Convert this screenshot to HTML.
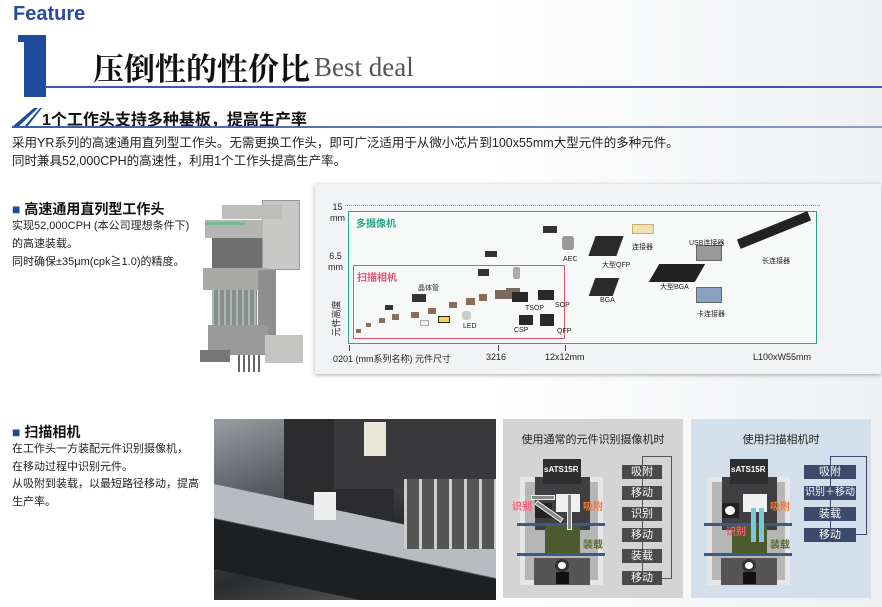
<!DOCTYPE html>
<html style="overflow:hidden;height:607px"><head><meta charset="utf-8"><style>
*{margin:0;padding:0;box-sizing:border-box}
body{width:882px;height:607px;overflow:hidden;position:relative;background:linear-gradient(90deg,#fff 0%,#fff 55%,#eef0f2 100%);font-family:"Liberation Sans","Noto Sans CJK SC",sans-serif;color:#222}
.a{position:absolute;white-space:nowrap}
.s{font-family:"Liberation Serif","Noto Serif CJK SC",serif}
.r{position:absolute}
.fb{position:absolute;color:#fff;font-size:11px;text-align:center;line-height:14px;height:14px;white-space:nowrap}
.lb{position:absolute;font-size:7px;color:#222;white-space:nowrap}
</style></head><body>
<!-- header -->
<div class="a" style="left:13px;top:3px;font-size:20px;font-weight:bold;color:#2a4aa0">Feature</div>
<div class="r" style="left:24px;top:35px;width:22px;height:62px;background:#1f4b9e"></div>
<div class="r" style="left:18px;top:35px;width:10px;height:7px;background:#1f4b9e"></div>
<div class="r" style="left:45px;top:86px;width:837px;height:2px;background:#3a5ca8"></div>
<div class="a s" style="left:93px;top:44px;font-size:31px;font-weight:bold;color:#111">压倒性的性价比</div>
<div class="a s" style="left:314px;top:52px;font-size:27px;color:#555">Best deal</div>
<svg class="r" style="left:10px;top:105px" width="32" height="24"><polygon points="14,22 30,3 32,3 17,22" fill="#1f4b9e"/><polygon points="2,22 24,3 28,3 8,22" fill="#1f4b9e"/></svg>
<div class="a" style="left:42px;top:106px;font-size:16px;font-weight:bold;color:#111">1个工作头支持多种基板，提高生产率</div>
<div class="r" style="left:12px;top:126px;width:870px;height:2px;background:linear-gradient(90deg,#3a5ca8,#8aa0c8)"></div>
<div class="a" style="left:12px;top:134px;font-size:12.5px;line-height:18px;color:#222">采用YR系列的高速通用直列型工作头。无需更换工作头，即可广泛适用于从微小芯片到100x55mm大型元件的多种元件。<br>同时兼具52,000CPH的高速性，利用1个工作头提高生产率。</div>

<!-- section 1 -->
<div class="a" style="left:12px;top:199px;font-size:14px;font-weight:bold;color:#111"><span style="color:#1f4b9e">■</span> 高速通用直列型工作头</div>
<div class="a" style="left:12px;top:217px;font-size:11px;line-height:18px;color:#222">实现52,000CPH (本公司理想条件下)<br>的高速装载。<br>同时确保±35μm(cpk≧1.0)的精度。</div>
<!-- machine -->
<div class="r" style="left:262px;top:200px;width:38px;height:70px;background:#c8c8c6;border:1px solid #999"></div>
<div class="r" style="left:222px;top:205px;width:60px;height:14px;background:#bdbdbb"></div>
<div class="r" style="left:205px;top:220px;width:58px;height:18px;background:#b5b5b3"></div>
<div class="r" style="left:205px;top:222px;width:40px;height:3px;background:#7ab88a"></div>
<div class="r" style="left:212px;top:238px;width:50px;height:30px;background:#6f6f70"></div>
<div class="r" style="left:203px;top:268px;width:64px;height:22px;background:#a9a9a7"></div>
<div class="r" style="left:212px;top:290px;width:45px;height:35px;background:repeating-linear-gradient(90deg,#9fbcb6 0 2px,#8c8c8c 2px 6px)"></div>
<div class="r" style="left:258px;top:270px;width:18px;height:80px;background:#8e8e8e"></div>
<div class="r" style="left:208px;top:325px;width:60px;height:30px;background:#9a9a9a"></div>
<div class="r" style="left:265px;top:335px;width:38px;height:28px;background:#c4c4c2"></div>
<div class="r" style="left:200px;top:350px;width:30px;height:12px;background:#777"></div>
<div class="r" style="left:238px;top:355px;width:22px;height:17px;background:repeating-linear-gradient(90deg,#666 0 2px,transparent 2px 5px)"></div>

<!-- chart panel -->
<div class="r" style="left:315px;top:184px;width:566px;height:190px;background:#f2f3f4;box-shadow:0 1px 4px rgba(0,0,0,.35)"></div>
<div class="r" style="left:345px;top:205px;width:475px;height:0;border-top:1px dotted #999"></div>
<div class="r" style="left:348px;top:211px;width:469px;height:133px;border:1.5px solid #2aa58a;background:#f7f8f8"></div>
<div class="r" style="left:353px;top:265px;width:212px;height:74px;border:1.5px solid #e05570"></div>
<div class="r" style="left:349px;top:345px;width:1px;height:6px;background:#555"></div>
<div class="r" style="left:498px;top:345px;width:1px;height:6px;background:#555"></div>
<div class="r" style="left:565px;top:345px;width:1px;height:6px;background:#555"></div>
<div class="a" style="left:356px;top:215px;font-size:10px;font-weight:bold;color:#2aa58a">多摄像机</div>
<div class="a" style="left:357px;top:269px;font-size:10px;font-weight:bold;color:#e05570">扫描相机</div>
<div class="a" style="left:330px;top:202px;font-size:9px;line-height:11px;text-align:center">15<br>mm</div>
<div class="a" style="left:328px;top:251px;font-size:9px;line-height:11px;text-align:center">6.5<br>mm</div>
<div class="a" style="left:318px;top:312px;font-size:9px;transform:rotate(-90deg)">元件高度</div>
<div class="a" style="left:333px;top:352px;font-size:9px">0201 (mm系列名称) 元件尺寸</div>
<div class="a" style="left:486px;top:352px;font-size:9px">3216</div>
<div class="a" style="left:545px;top:352px;font-size:9px">12x12mm</div>
<div class="a" style="left:753px;top:352px;font-size:9px">L100xW55mm</div>
<!-- components -->
<div class="r" style="left:356px;top:329px;width:5px;height:4px;background:#8a6e5a"></div>
<div class="r" style="left:366px;top:323px;width:5px;height:4px;background:#8a6e5a"></div>
<div class="r" style="left:379px;top:318px;width:6px;height:5px;background:#8a6e5a"></div>
<div class="r" style="left:392px;top:314px;width:7px;height:6px;background:#8a6e5a"></div>
<div class="r" style="left:411px;top:312px;width:8px;height:6px;background:#8a6e5a"></div>
<div class="r" style="left:428px;top:308px;width:8px;height:6px;background:#8a6e5a"></div>
<div class="r" style="left:449px;top:302px;width:8px;height:6px;background:#8a6e5a"></div>
<div class="r" style="left:466px;top:298px;width:9px;height:7px;background:#8a6e5a"></div>
<div class="r" style="left:479px;top:294px;width:8px;height:7px;background:#8a6e5a"></div>
<div class="r" style="left:495px;top:290px;width:11px;height:9px;background:#7a6a5e"></div>
<div class="r" style="left:506px;top:288px;width:14px;height:11px;background:#7a6a5e"></div>
<div class="r" style="left:385px;top:305px;width:8px;height:5px;background:#333"></div>
<div class="r" style="left:412px;top:294px;width:14px;height:8px;background:#333"></div>
<div class="r" style="left:420px;top:320px;width:9px;height:6px;background:#eee;border:1px solid #aaa"></div>
<div class="r" style="left:438px;top:316px;width:12px;height:7px;background:#f5d84a;border:1px solid #222"></div>
<div class="r" style="left:462px;top:311px;width:9px;height:9px;background:#ccc;border-radius:3px"></div>
<div class="r" style="left:478px;top:269px;width:11px;height:7px;background:#333"></div>
<div class="r" style="left:485px;top:251px;width:12px;height:6px;background:#333"></div>
<div class="r" style="left:513px;top:267px;width:7px;height:12px;background:#aaa;border-radius:2px"></div>
<div class="r" style="left:512px;top:292px;width:16px;height:10px;background:#2a2a2a"></div>
<div class="r" style="left:538px;top:290px;width:16px;height:10px;background:#2a2a2a"></div>
<div class="r" style="left:519px;top:315px;width:14px;height:10px;background:#2a2a2a"></div>
<div class="r" style="left:540px;top:314px;width:14px;height:12px;background:#2a2a2a"></div>
<div class="r" style="left:543px;top:226px;width:14px;height:7px;background:#333"></div>
<div class="r" style="left:562px;top:236px;width:12px;height:14px;background:#999;border-radius:3px"></div>
<div class="r" style="left:592px;top:278px;width:24px;height:18px;background:#2a2a2a;transform:skew(-20deg)"></div>
<div class="r" style="left:592px;top:236px;width:28px;height:20px;background:#2a2a2a;transform:skew(-20deg)"></div>
<div class="r" style="left:632px;top:224px;width:22px;height:10px;background:#f0e2b0;border:1px solid #c8b070"></div>
<div class="r" style="left:654px;top:264px;width:46px;height:18px;background:#222;transform:skew(-30deg)"></div>
<div class="r" style="left:696px;top:245px;width:26px;height:16px;background:#999;border:1px solid #666"></div>
<div class="r" style="left:696px;top:287px;width:26px;height:16px;background:#8aa0c0;border:1px solid #666"></div>
<div class="r" style="left:736px;top:225px;width:76px;height:10px;background:#222;transform:rotate(-22deg)"></div>
<div class="lb" style="left:563px;top:256px">AEC</div>
<div class="lb" style="left:602px;top:260px">大型QFP</div>
<div class="lb" style="left:632px;top:242px">连接器</div>
<div class="lb" style="left:689px;top:238px">USB连接器</div>
<div class="lb" style="left:762px;top:256px">长连接器</div>
<div class="lb" style="left:660px;top:282px">大型BGA</div>
<div class="lb" style="left:600px;top:297px">BGA</div>
<div class="lb" style="left:697px;top:309px">卡连接器</div>
<div class="lb" style="left:418px;top:283px">晶体管</div>
<div class="lb" style="left:525px;top:305px">TSOP</div>
<div class="lb" style="left:555px;top:302px">SOP</div>
<div class="lb" style="left:463px;top:323px">LED</div>
<div class="lb" style="left:514px;top:327px">CSP</div>
<div class="lb" style="left:557px;top:328px">QFP</div>

<!-- section 2 -->
<div class="a" style="left:12px;top:422px;font-size:14px;font-weight:bold;color:#111"><span style="color:#1f4b9e">■</span> 扫描相机</div>
<div class="a" style="left:12px;top:441px;font-size:11px;line-height:17.5px;color:#222">在工作头一方装配元件识别摄像机，<br>在移动过程中识别元件。<br>从吸附到装载，以最短路径移动，提高<br>生产率。</div>
<!-- photo -->
<div class="r" style="left:214px;top:419px;width:282px;height:181px;background:linear-gradient(160deg,#9a9ea2 0%,#5a5e62 30%,#2a2c2e 60%,#6a6c6e 100%);overflow:hidden">
<div class="r" style="left:70px;top:0;width:110px;height:110px;background:#2c2c2e"></div>
<div class="r" style="left:120px;top:0;width:162px;height:70px;background:#3a3a3c"></div>
<div class="r" style="left:0;top:95px;width:282px;height:34px;background:#b8bcc0;transform:skewY(12deg)"></div>
<div class="r" style="left:0;top:130px;width:282px;height:50px;background:#1e1f20;transform:skewY(12deg)"></div>
<div class="r" style="left:100px;top:73px;width:22px;height:28px;background:#eee"></div>
<div class="r" style="left:150px;top:3px;width:22px;height:34px;background:#e8e6d8"></div>
<div class="r" style="left:190px;top:60px;width:92px;height:70px;background:repeating-linear-gradient(90deg,#ccc 0 3px,#555 3px 15px)"></div>
</div>

<!-- panel 1 -->
<div class="r" style="left:503px;top:419px;width:180px;height:179px;background:#d4d4d4"></div>
<div class="a" style="left:513px;top:431px;width:160px;text-align:center;font-size:11px;color:#222">使用通常的元件识别摄像机时</div>
<div class="r" style="left:520px;top:477px;width:83px;height:108px;background:#e6e6e6"></div>
<div class="r" style="left:525px;top:482px;width:73px;height:98px;background:#b6b6b6"></div>
<div class="r" style="left:535px;top:477px;width:55px;height:53px;background:#3f3f41"></div>
<div class="r" style="left:543px;top:459px;width:38px;height:25px;background:#2e2e30"></div>
<div class="a" style="left:544px;top:465px;font-size:8px;font-weight:bold;color:#fff">sATS15R</div>
<div class="r" style="left:556px;top:494px;width:24px;height:18px;background:#f0f0f0"></div>
<div class="r" style="left:535px;top:503px;width:17px;height:15px;background:#222"></div>
<div class="r" style="left:545px;top:525px;width:35px;height:29px;background:#4d5a2e"></div>
<div class="r" style="left:517px;top:523px;width:88px;height:3px;background:#3a5a88"></div>
<div class="r" style="left:517px;top:553px;width:88px;height:3px;background:#3a5a88"></div>
<div class="r" style="left:534px;top:558px;width:56px;height:27px;background:#555"></div>
<div class="r" style="left:555px;top:559px;width:14px;height:13px;background:#fff;border-radius:50%;border:3px solid #333"></div>
<div class="r" style="left:556px;top:572px;width:13px;height:12px;background:#111"></div>
<div class="r" style="left:567px;top:494px;width:5px;height:36px;background:#888;border:1px solid #eee"></div>
<div class="r" style="left:533px;top:509px;width:32px;height:5px;background:#888;border:1px solid #eee;transform:rotate(35deg)"></div>
<div class="r" style="left:531px;top:495px;width:24px;height:5px;background:#888;border:1px solid #eee"></div>
<div class="a" style="left:512px;top:498px;font-size:10px;color:#f25a7a;font-weight:bold">识别</div>
<div class="a" style="left:583px;top:498px;font-size:10px;color:#f07838;font-weight:bold">吸附</div>
<div class="a" style="left:583px;top:536px;font-size:10px;color:#556b2f;font-weight:bold">装载</div>
<div class="r" style="left:642px;top:456px;width:30px;height:123px;border:1px solid #555;border-left:none"></div>
<div class="r" style="left:642px;top:456px;width:1px;height:118px;background:#555"></div>
<div class="fb" style="left:622px;top:465px;width:40px;background:#4a4a4a">吸附</div>
<div class="fb" style="left:622px;top:486px;width:40px;background:#4a4a4a">移动</div>
<div class="fb" style="left:622px;top:507px;width:40px;background:#4a4a4a">识别</div>
<div class="fb" style="left:622px;top:528px;width:40px;background:#4a4a4a">移动</div>
<div class="fb" style="left:622px;top:549px;width:40px;background:#4a4a4a">装载</div>
<div class="fb" style="left:622px;top:571px;width:40px;background:#4a4a4a">移动</div>

<!-- panel 2 -->
<div class="r" style="left:691px;top:419px;width:180px;height:179px;background:#d3dfea"></div>
<div class="a" style="left:701px;top:431px;width:160px;text-align:center;font-size:11px;color:#222">使用扫描相机时</div>
<div class="r" style="left:707px;top:477px;width:83px;height:108px;background:#e6e6e6"></div>
<div class="r" style="left:712px;top:482px;width:73px;height:98px;background:#b6b6b6"></div>
<div class="r" style="left:722px;top:477px;width:55px;height:53px;background:#3f3f41"></div>
<div class="r" style="left:730px;top:459px;width:38px;height:25px;background:#2e2e30"></div>
<div class="a" style="left:731px;top:465px;font-size:8px;font-weight:bold;color:#fff">sATS15R</div>
<div class="r" style="left:743px;top:494px;width:24px;height:18px;background:#f0f0f0"></div>
<div class="r" style="left:722px;top:503px;width:17px;height:15px;background:#222"></div>
<div class="r" style="left:725px;top:506px;width:10px;height:9px;background:#fff;border-radius:50%"></div>
<div class="r" style="left:732px;top:525px;width:35px;height:29px;background:#4d5a2e"></div>
<div class="r" style="left:704px;top:523px;width:88px;height:3px;background:#3a5a88"></div>
<div class="r" style="left:704px;top:553px;width:88px;height:3px;background:#3a5a88"></div>
<div class="r" style="left:721px;top:558px;width:56px;height:27px;background:#555"></div>
<div class="r" style="left:742px;top:559px;width:14px;height:13px;background:#fff;border-radius:50%;border:3px solid #333"></div>
<div class="r" style="left:743px;top:572px;width:13px;height:12px;background:#111"></div>
<div class="r" style="left:751px;top:508px;width:5px;height:34px;background:#7cc8d8"></div>
<div class="r" style="left:759px;top:508px;width:5px;height:34px;background:#7cc8d8"></div>
<div class="a" style="left:726px;top:523px;font-size:10px;color:#f25a7a;font-weight:bold">识别</div>
<div class="a" style="left:770px;top:498px;font-size:10px;color:#f07838;font-weight:bold">吸附</div>
<div class="a" style="left:770px;top:536px;font-size:10px;color:#556b2f;font-weight:bold">装载</div>
<div class="r" style="left:830px;top:456px;width:37px;height:79px;border:1px solid #3d4a6b;border-left:none"></div>
<div class="r" style="left:830px;top:456px;width:1px;height:76px;background:#3d4a6b"></div>
<div class="fb" style="left:804px;top:465px;width:52px;background:#3d4a6b">吸附</div>
<div class="fb" style="left:804px;top:486px;width:52px;background:#3d4a6b;font-size:10px">识别＋移动</div>
<div class="fb" style="left:804px;top:507px;width:52px;background:#3d4a6b">装载</div>
<div class="fb" style="left:804px;top:528px;width:52px;background:#3d4a6b">移动</div>
</body></html>
